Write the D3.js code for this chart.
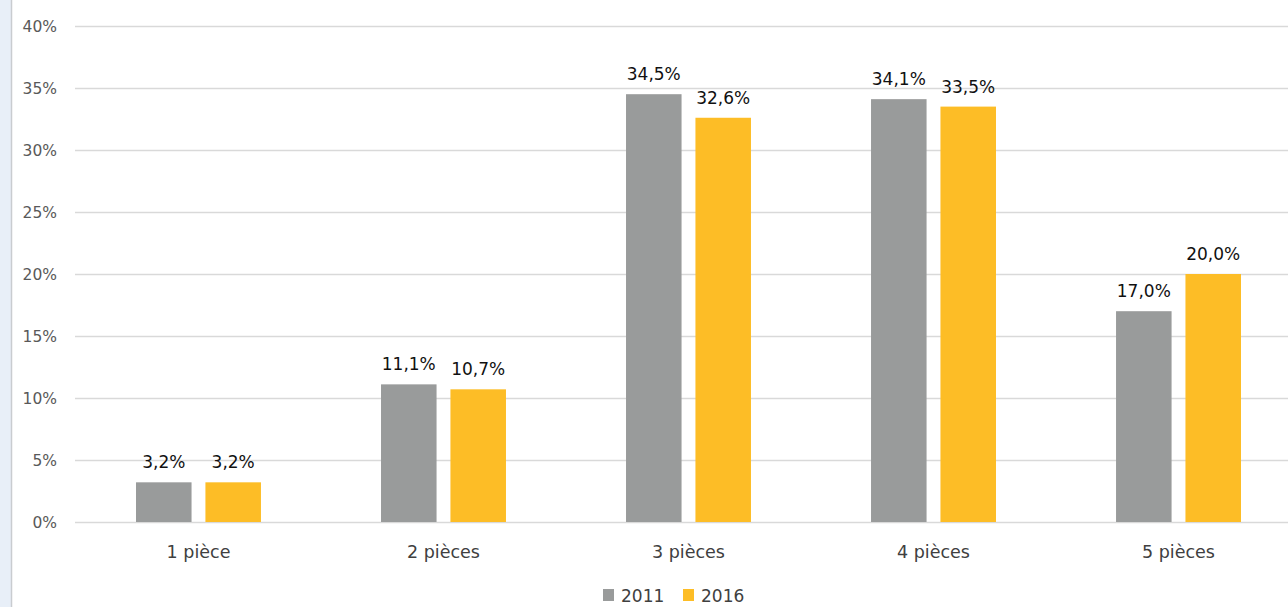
<!DOCTYPE html>
<html>
<head>
<meta charset="utf-8">
<script src="https://cdn.jsdelivr.net/npm/d3@7"></script>
<style>
  html, body { margin: 0; padding: 0; background: #ffffff; }
  svg { display: block; }
  text { font-family: "DejaVu Sans", "Noto Sans", sans-serif; }
  .ylab { font-size: 15.5px; fill: #595959; }
</style>
</head>
<body>
<svg id="chart" width="1288" height="607"></svg>
<script>
// Répartition des logements selon le nombre de pièces
const categories = ["1 pièce", "2 pièces", "3 pièces", "4 pièces", "5 pièces"];
const seriesNames = ["2011", "2016"];
const values2011 = [3.2, 11.1, 34.5, 34.1, 17.0];
const values2016 = [3.2, 10.7, 32.6, 33.5, 20.0];
const yTicks = [0, 5, 10, 15, 20, 25, 30, 35, 40];
const colors = ["#999b9b", "#fdbd26"];

const seriesValues = [values2011, values2016];
const rows = categories.map((c, i) => ({
  category: c,
  items: seriesNames.map((s, j) => ({ series: s, value: seriesValues[j][i] }))
}));

const svg = d3.select("#chart");
const W = 1288, H = 607;

// left panel strip
svg.append("rect").attr("x", 0).attr("y", 0).attr("width", 11).attr("height", H).attr("fill", "#e8eff8");
svg.append("line").attr("x1", 11.5).attr("x2", 11.5).attr("y1", 0).attr("y2", H)
  .attr("stroke", "#c9ccd0").attr("stroke-width", 1.5);

const plotLeft = 75, plotRight = 1302;
const y = d3.scaleLinear().domain([0, 40]).range([522, 26]);

const x0 = d3.scaleBand().domain(categories).range([plotLeft, plotRight])
  .paddingInner(0.49).paddingOuter(0.249);
const x1 = d3.scaleBand().domain(seriesNames).range([0, x0.bandwidth()]).paddingInner(0.2);
const color = d3.scaleOrdinal().domain(seriesNames).range(colors);

// gridlines
const yGrid = d3.axisLeft(y).tickValues(yTicks).tickSize(-(W - plotLeft)).tickFormat("");
const gy = svg.append("g").attr("transform", `translate(${plotLeft},0)`).call(yGrid);
gy.select(".domain").remove();
gy.selectAll(".tick line").attr("stroke", "#d9d9d9").attr("stroke-width", 1.5);

// y labels
svg.append("g").selectAll("text").data(yTicks).join("text")
  .attr("class", "ylab")
  .attr("x", 57)
  .attr("y", d => y(d))
  .attr("dy", "0.36em")
  .attr("text-anchor", "end")
  .text(d => d + "%");

// bars
const groups = svg.append("g").selectAll("g").data(rows).join("g")
  .attr("transform", d => `translate(${x0(d.category)},0)`);

groups.selectAll("rect").data(d => d.items).join("rect")
  .attr("x", d => x1(d.series))
  .attr("width", x1.bandwidth())
  .attr("y", d => y(d.value))
  .attr("height", d => y(0) - y(d.value))
  .attr("fill", d => color(d.series));

// value labels
groups.selectAll("text.val").data(d => d.items).join("text")
  .attr("class", "val")
  .attr("x", d => x1(d.series) + x1.bandwidth() / 2)
  .attr("y", d => y(d.value) - 14)
  .attr("text-anchor", "middle")
  .style("font-size", "17px")
  .attr("fill", "#111111")
  .text(d => d.value.toFixed(1).replace(".", ",") + "%");

// x axis labels
const xAxis = d3.axisBottom(x0).tickSize(0).tickPadding(0);
const gx = svg.append("g").attr("transform", `translate(0,${y(0)})`).call(xAxis);
gx.attr("font-size", null).attr("font-family", null);
gx.select(".domain").remove();
gx.selectAll(".tick text")
  .attr("dy", 0).attr("y", 36)
  .attr("fill", "#404040")
  .style("font-size", "17.5px")
  .style("font-family", "'DejaVu Sans', sans-serif");

// legend
const legendX = [603, 683];
const legend = svg.append("g").selectAll("g").data(seriesNames).join("g")
  .attr("transform", (d, i) => `translate(${legendX[i]},589)`);
legend.append("rect").attr("width", 11).attr("height", 12).attr("fill", d => color(d));
legend.append("text").attr("x", 18).attr("y", 13)
  .style("font-size", "17px").attr("fill", "#404040").text(d => d);
</script>
</body>
</html>
